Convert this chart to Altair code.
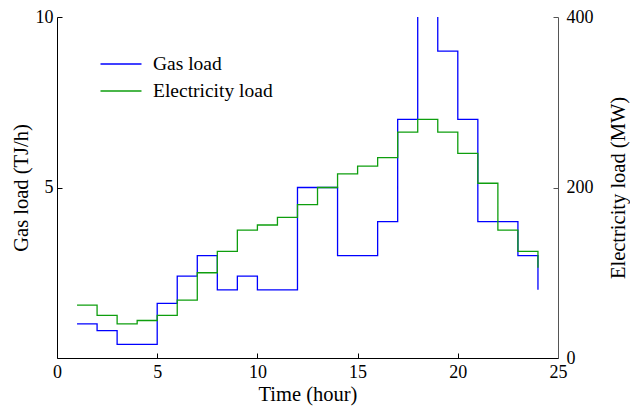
import altair as alt
import pandas as pd

hours = list(range(1, 25))
gas_load = [1.0, 0.8, 0.4, 0.4, 1.6, 2.4, 3.0, 2.0, 2.4, 2.0, 2.0, 5.0,
            5.0, 3.0, 3.0, 4.0, 7.0, 11.0, 9.0, 7.0, 4.0, 4.0, 3.0, 2.0]
elec_load = [62, 50, 40, 44, 50, 68, 100, 125, 150, 156, 165, 180,
             200, 216, 225, 235, 265, 280, 265, 240, 205, 150, 125, 106]
series_names = ["Gas load", "Electricity load"]
series_colors = ["#0000ff", "#0e9e0e"]
x_ticks = [0, 5, 10, 15, 20, 25]
gas_ticks = [5, 10]
elec_ticks = [0, 200, 400]

FONT = "Liberation Serif"
W, H = 501, 341

gas_df = pd.DataFrame({"hour": hours, "value": gas_load, "series": series_names[0]})
elec_df = pd.DataFrame({"hour": hours, "value": elec_load, "series": series_names[1]})

xscale = alt.Scale(domain=[0, 25], nice=False, zero=False)
gscale = alt.Scale(domain=[0, 10], nice=False)
escale = alt.Scale(domain=[0, 400], nice=False)

legend = alt.Legend(
    title=None, orient="none", legendX=53, legendY=36,
    symbolType="M-2,0H2", symbolSize=420, symbolStrokeWidth=1.3,
    labelFont=FONT, labelFontSize=19.5, labelColor="black", labelOffset=21,
    rowPadding=6,
)
color = alt.Color("series:N", scale=alt.Scale(domain=series_names, range=series_colors), legend=legend)

lbl = dict(labelFont=FONT, labelFontSize=18, labelColor="black",
           titleFont=FONT, titleFontSize=20.5, titleColor="black", titleFontWeight="normal")

gas_line = alt.Chart(gas_df).mark_line(interpolate="step-after", strokeWidth=1.3, clip=True).encode(
    x=alt.X("hour:Q", scale=xscale,
            axis=alt.Axis(orient="bottom", values=x_ticks, title="Time (hour)", ticks=False,
                          labelFlush=False, domainColor="black", labelPadding=5, titlePadding=3, **lbl)),
    y=alt.Y("value:Q", scale=gscale,
            axis=alt.Axis(orient="left", values=gas_ticks, title="Gas load (TJ/h)", ticks=False,
                          labelFlush=False, domainColor="black", labelPadding=4, titlePadding=4, **lbl)),
    color=color,
)

elec_line = alt.Chart(elec_df).mark_line(interpolate="step-after", strokeWidth=1.3, clip=True).encode(
    x=alt.X("hour:Q", scale=xscale, axis=None),
    y=alt.Y("value:Q", scale=escale,
            axis=alt.Axis(orient="right", values=elec_ticks, title="Electricity load (MW)", ticks=False,
                          labelFlush=False, domainColor="#555555", labelPadding=8, titlePadding=35,
                          titleAngle=270, **lbl)),
    color=color,
)

gas_ticks_layer = alt.Chart(gas_df).mark_line(strokeOpacity=0).encode(
    x=alt.X("hour:Q", scale=xscale,
            axis=alt.Axis(orient="top", offset=-H, values=x_ticks, labels=False, domain=False,
                          tickSize=5, tickColor="black", title=None)),
    y=alt.Y("value:Q", scale=gscale,
            axis=alt.Axis(orient="right", offset=-W, values=gas_ticks, labels=False, domain=False,
                          tickSize=5, tickColor="black", title=None)),
)

elec_ticks_layer = alt.Chart(elec_df).mark_line(strokeOpacity=0).encode(
    x=alt.X("hour:Q", scale=xscale, axis=None),
    y=alt.Y("value:Q", scale=escale,
            axis=alt.Axis(orient="left", offset=-W, values=[200, 400], labels=False, domain=False,
                          tickSize=5, tickColor="#555555", title=None)),
)

chart = alt.layer(gas_line, elec_line, gas_ticks_layer, elec_ticks_layer).resolve_scale(
    y="independent"
).resolve_axis(
    x="independent", y="independent"
).properties(
    width=W, height=H,
    autosize=alt.AutoSizeParams(type="none"),
    padding={"left": 49, "top": 9, "right": 72, "bottom": 48},
).configure_axis(grid=False).configure_view(strokeWidth=0)

chart.save("out.html", embed_options={"renderer": "svg", "actions": False})
